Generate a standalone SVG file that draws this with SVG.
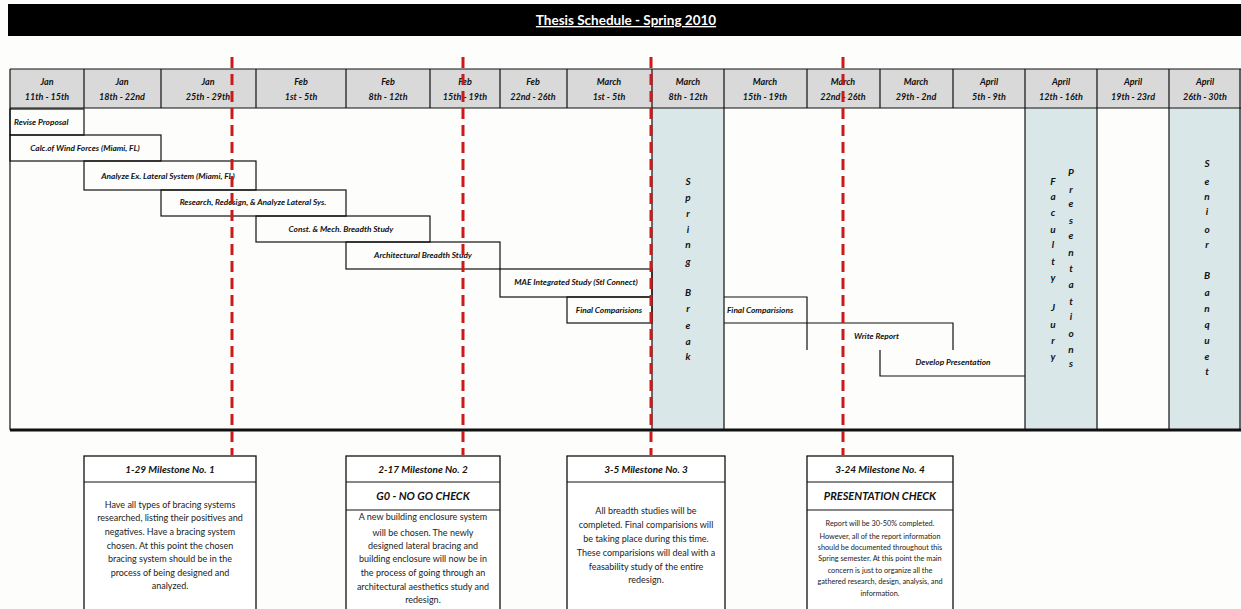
<svg xmlns="http://www.w3.org/2000/svg" width="1241" height="609" viewBox="0 0 1241 609">
<style>
.hd{font-family:Lato,"Liberation Sans",sans-serif;font-size:9px;font-weight:bold;font-style:italic;fill:#111;text-anchor:middle}
.tk{font-family:Lato,"Liberation Sans",sans-serif;font-size:8.3px;font-weight:bold;font-style:italic;fill:#111}
.vt{font-family:Lato,"Liberation Sans",sans-serif;font-size:10px;font-weight:bold;font-style:italic;fill:#111;text-anchor:middle}
.mh{font-family:Lato,"Liberation Sans",sans-serif;font-size:10px;font-weight:bold;font-style:italic;fill:#111;text-anchor:middle}
.mc{font-family:Lato,"Liberation Sans",sans-serif;font-size:11px;font-weight:bold;font-style:italic;fill:#111;text-anchor:middle}
.mb{font-family:Lato,"Liberation Sans",sans-serif;font-size:9px;fill:#222;text-anchor:middle}
.ms{font-family:Lato,"Liberation Sans",sans-serif;font-size:7.3px;fill:#222;text-anchor:middle}
.ln{stroke:#111;stroke-width:1.2;fill:none}
.box{stroke:#111;stroke-width:1.3;fill:#fff}
.red{stroke:#cc1a1a;stroke-width:3;stroke-dasharray:11 6;fill:none}
</style>
<rect width="1241" height="609" fill="#fdfdfb"/>
<g id="title">
<rect x="8" y="4" width="1233" height="32" fill="#000"/>
<text x="626" y="25" font-family="Lato,'Liberation Sans',sans-serif" font-size="13.5" font-weight="bold" fill="#fff" text-anchor="middle" text-decoration="underline">Thesis Schedule - Spring 2010</text>
</g>
<g id="grid">
<rect x="10" y="69" width="1231" height="39" fill="#d9d9d9"/>
<rect x="652" y="108" width="72" height="322" fill="#dae7e9"/>
<rect x="1025" y="108" width="72" height="322" fill="#dae7e9"/>
<rect x="1169" y="108" width="72" height="322" fill="#dae7e9"/>
<line class="ln" x1="10" y1="69" x2="1241" y2="69" stroke-width="1.5"/>
<line class="ln" x1="10" y1="108" x2="1241" y2="108" stroke-width="1.5"/>
<path class="ln" d="M84 69V108M161 69V108M256 69V108M346 69V108M430 69V108M500 69V108M567 69V108M807 69V108M880 69V108M953 69V108"/>
<path class="ln" d="M10 69V430M652 69V430M724 69V430M1025 69V430M1097 69V430M1169 69V430M1240 69V430"/>
<line x1="10" y1="430" x2="1241" y2="430" stroke="#111" stroke-width="3"/>
</g>
<g id="header">
<text class="hd" x="47" y="85">Jan</text><text class="hd" x="47" y="100">11th - 15th</text>
<text class="hd" x="122" y="85">Jan</text><text class="hd" x="122" y="100">18th - 22nd</text>
<text class="hd" x="208" y="85">Jan</text><text class="hd" x="208" y="100">25th - 29th</text>
<text class="hd" x="301" y="85">Feb</text><text class="hd" x="301" y="100">1st - 5th</text>
<text class="hd" x="388" y="85">Feb</text><text class="hd" x="388" y="100">8th - 12th</text>
<text class="hd" x="465" y="85">Feb</text><text class="hd" x="465" y="100">15th - 19th</text>
<text class="hd" x="533" y="85">Feb</text><text class="hd" x="533" y="100">22nd - 26th</text>
<text class="hd" x="609" y="85">March</text><text class="hd" x="609" y="100">1st - 5th</text>
<text class="hd" x="688" y="85">March</text><text class="hd" x="688" y="100">8th - 12th</text>
<text class="hd" x="765" y="85">March</text><text class="hd" x="765" y="100">15th - 19th</text>
<text class="hd" x="843" y="85">March</text><text class="hd" x="843" y="100">22nd - 26th</text>
<text class="hd" x="916" y="85">March</text><text class="hd" x="916" y="100">29th - 2nd</text>
<text class="hd" x="989" y="85">April</text><text class="hd" x="989" y="100">5th - 9th</text>
<text class="hd" x="1061" y="85">April</text><text class="hd" x="1061" y="100">12th - 16th</text>
<text class="hd" x="1133" y="85">April</text><text class="hd" x="1133" y="100">19th - 23rd</text>
<text class="hd" x="1205" y="85">April</text><text class="hd" x="1205" y="100">26th - 30th</text>
</g>
<g id="task-revise"><rect class="ln" x="10" y="109" width="74" height="26"/><text class="tk" x="14" y="125">Revise Proposal</text></g>
<g id="task-calc"><rect class="ln" x="10" y="135" width="151" height="26"/><text class="tk" x="85" y="151" text-anchor="middle">Calc.of Wind Forces (Miami, FL)</text></g>
<g id="task-analyze"><rect class="ln" x="84" y="161" width="172" height="29"/><text class="tk" x="168" y="179" text-anchor="middle">Analyze Ex. Lateral System  (Miami, FL)</text></g>
<g id="task-research"><rect class="ln" x="161" y="190" width="185" height="26"/><text class="tk" x="253" y="205" text-anchor="middle">Research, Redesign, &amp; Analyze Lateral Sys.</text></g>
<g id="task-const"><rect class="ln" x="256" y="216" width="174" height="26"/><text class="tk" x="341" y="232" text-anchor="middle">Const. &amp; Mech. Breadth Study</text></g>
<g id="task-arch"><rect class="ln" x="346" y="242" width="154" height="27"/><text class="tk" x="423" y="258" text-anchor="middle">Architectural Breadth Study</text></g>
<g id="task-mae"><rect class="ln" x="500" y="269" width="152" height="28"/><text class="tk" x="576" y="285" text-anchor="middle">MAE Integrated Study (Stl Connect)</text></g>
<g id="task-final1"><rect class="ln" x="567" y="297" width="85" height="26"/><text class="tk" x="609" y="313" text-anchor="middle" font-size="7">Final Comparisions</text></g>
<g id="task-final2"><path class="ln" d="M724 297H807V350M724 323H807"/><text class="tk" x="727" y="313" font-size="7">Final Comparisions</text></g>
<g id="task-write"><path class="ln" d="M807 323H953V350"/><text class="tk" x="854" y="339">Write Report</text></g>
<g id="task-develop"><path class="ln" d="M880 350V376H1025"/><text class="tk" x="953" y="365" text-anchor="middle">Develop Presentation</text></g>
<g id="spring-break">
<text class="vt" x="688" y="185">S</text><text class="vt" x="688" y="201">p</text><text class="vt" x="688" y="217">r</text><text class="vt" x="688" y="233">i</text><text class="vt" x="688" y="248">n</text><text class="vt" x="688" y="265">g</text>
<text class="vt" x="688" y="296">B</text><text class="vt" x="688" y="312">r</text><text class="vt" x="688" y="329">e</text><text class="vt" x="688" y="345">a</text><text class="vt" x="688" y="360">k</text>
</g>
<g id="faculty-jury">
<text class="vt" x="1053" y="185">F</text><text class="vt" x="1053" y="200">a</text><text class="vt" x="1053" y="216">c</text><text class="vt" x="1053" y="233">u</text><text class="vt" x="1053" y="248">l</text><text class="vt" x="1053" y="265">t</text><text class="vt" x="1053" y="281">y</text>
<text class="vt" x="1053" y="311">J</text><text class="vt" x="1053" y="328">u</text><text class="vt" x="1053" y="344">r</text><text class="vt" x="1053" y="360">y</text>
</g>
<g id="presentations">
<text class="vt" x="1071" y="176">P</text><text class="vt" x="1071" y="193">r</text><text class="vt" x="1071" y="207">e</text><text class="vt" x="1071" y="224">s</text><text class="vt" x="1071" y="239">e</text><text class="vt" x="1071" y="256">n</text><text class="vt" x="1071" y="272">t</text><text class="vt" x="1071" y="288">a</text><text class="vt" x="1071" y="305">t</text><text class="vt" x="1071" y="320">i</text><text class="vt" x="1071" y="337">o</text><text class="vt" x="1071" y="353">n</text><text class="vt" x="1071" y="367">s</text>
</g>
<g id="senior-banquet">
<text class="vt" x="1207" y="167">S</text><text class="vt" x="1207" y="185">e</text><text class="vt" x="1207" y="200">n</text><text class="vt" x="1207" y="215">i</text><text class="vt" x="1207" y="233">o</text><text class="vt" x="1207" y="248">r</text>
<text class="vt" x="1207" y="279">B</text><text class="vt" x="1207" y="296">a</text><text class="vt" x="1207" y="312">n</text><text class="vt" x="1207" y="328">q</text><text class="vt" x="1207" y="344">u</text><text class="vt" x="1207" y="360">e</text><text class="vt" x="1207" y="375">t</text>
</g>
<g id="milestone-lines">
<line class="red" x1="232" y1="57" x2="232" y2="455"/>
<line class="red" x1="463" y1="57" x2="463" y2="455"/>
<line class="red" x1="651" y1="57" x2="651" y2="455"/>
<line class="red" x1="843" y1="57" x2="843" y2="455" stroke-width="2"/>
</g>
<g id="milestone-1">
<rect class="box" x="84" y="456" width="172" height="160"/>
<line class="ln" x1="84" y1="482" x2="256" y2="482"/>
<text class="mh" x="170" y="473">1-29 Milestone No. 1</text>
<text class="mb" x="170" y="508">Have all types of bracing systems</text>
<text class="mb" x="170" y="521">researched, listing their positives and</text>
<text class="mb" x="170" y="535">negatives.  Have a bracing system</text>
<text class="mb" x="170" y="549">chosen.  At this point the chosen</text>
<text class="mb" x="170" y="562">bracing system should be in the</text>
<text class="mb" x="170" y="576">process of being designed and</text>
<text class="mb" x="170" y="589">analyzed.</text>
</g>
<g id="milestone-2">
<rect class="box" x="346" y="456" width="154" height="160"/>
<line class="ln" x1="346" y1="482" x2="500" y2="482"/>
<line class="ln" x1="346" y1="510" x2="500" y2="510"/>
<text class="mh" x="423" y="473">2-17 Milestone No. 2</text>
<text class="mc" x="423" y="500">G0 - NO GO CHECK</text>
<text class="mb" x="423" y="520">A new building enclosure system</text>
<text class="mb" x="423" y="536">will be chosen.  The newly</text>
<text class="mb" x="423" y="549">designed lateral bracing and</text>
<text class="mb" x="423" y="562">building enclosure will now be in</text>
<text class="mb" x="423" y="576">the process of going through an</text>
<text class="mb" x="423" y="590">architectural aesthetics study and</text>
<text class="mb" x="423" y="603">redesign.</text>
</g>
<g id="milestone-3">
<rect class="box" x="567" y="456" width="158" height="160"/>
<line class="ln" x1="567" y1="482" x2="725" y2="482"/>
<text class="mh" x="646" y="473">3-5 Milestone No. 3</text>
<text class="mb" x="646" y="514">All breadth studies will be</text>
<text class="mb" x="646" y="528">completed.  Final comparisions will</text>
<text class="mb" x="646" y="542">be taking place during this time.</text>
<text class="mb" x="646" y="556">These comparisions will deal with a</text>
<text class="mb" x="646" y="570">feasability study of the entire</text>
<text class="mb" x="646" y="583">redesign.</text>
</g>
<g id="milestone-4">
<rect class="box" x="807" y="456" width="146" height="160"/>
<line class="ln" x1="807" y1="482" x2="953" y2="482"/>
<line class="ln" x1="807" y1="510" x2="953" y2="510"/>
<text class="mh" x="880" y="473">3-24 Milestone No. 4</text>
<text class="mc" x="880" y="500">PRESENTATION CHECK</text>
<text class="ms" x="880" y="526">Report will be 30-50% completed.</text>
<text class="ms" x="880" y="539">However, all of the report information</text>
<text class="ms" x="880" y="550">should be documented throughout this</text>
<text class="ms" x="880" y="561">Spring semester.  At this point the main</text>
<text class="ms" x="880" y="573">concern is just to organize all the</text>
<text class="ms" x="880" y="584">gathered research, design, analysis, and</text>
<text class="ms" x="880" y="596">information.</text>
</g>
</svg>
